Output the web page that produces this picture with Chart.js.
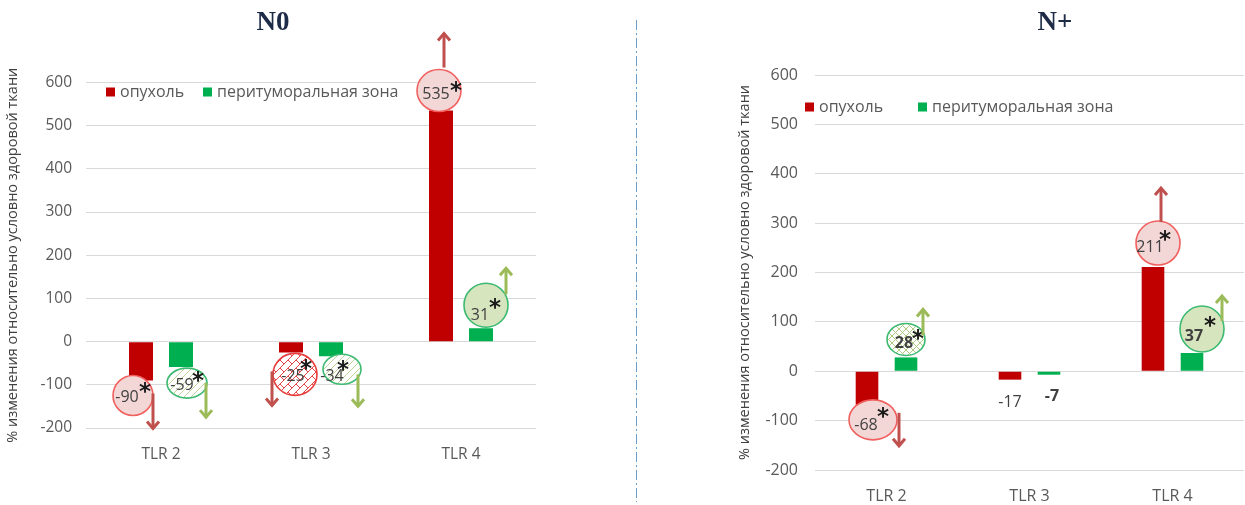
<!DOCTYPE html>
<html lang="ru">
<head>
<meta charset="utf-8">
<script src="https://cdn.jsdelivr.net/npm/chart.js@4.4.1/dist/chart.umd.min.js"></script>
<style>
  html, body { margin: 0; padding: 0; background: #fff; }
  #page { position: relative; width: 1245px; height: 505px; overflow: hidden; }
  canvas { position: absolute; top: 0; }
  #chartN0 { left: 0; }
  #chartNp { left: 640px; }
  .title {
    position: absolute; top: 6px; line-height: 33px;
    font: bold 27px "Liberation Serif", "Times New Roman", serif;
    color: #1e2b47; transform: translateX(-50%); white-space: nowrap;
  }
  #divider { position: absolute; left: 0; top: 0; }
</style>
</head>
<body>
<div id="page">
  <canvas id="chartN0" width="540" height="505"></canvas>
  <canvas id="chartNp" width="605" height="505"></canvas>
  <div class="title" style="left:273px">N0</div>
  <div class="title" style="left:1055px">N+</div>
  <svg id="divider" width="1245" height="505">
    <line x1="636.5" y1="20" x2="636.5" y2="502" stroke="#6c9dc6" stroke-width="1" stroke-dasharray="10 3 2 3"/>
  </svg>
</div>
<script>
const categories = ['TLR 2', 'TLR 3', 'TLR 4'];
const seriesNames = ['опухоль', 'перитуморальная зона'];
const yTicks = [600, 500, 400, 300, 200, 100, 0, -100, -200];
const yTitle = '% изменения относительно условно здоровой ткани';

// N0
const tumorN0 = [-90, -25, 535];
const periN0 = [-59, -34, 31];
// N+
const tumorNp = [-68, -17, 211];
const periNp = [28, -7, 37];

const RED = '#c00000';
const GREEN = '#00b050';
const ARROW_RED = '#c0504d';
const ARROW_GREEN = '#9bbb59';

// fill patterns for the callout bubbles
function makePattern(size, draw) {
  const c = document.createElement('canvas');
  c.width = c.height = size;
  const g = c.getContext('2d');
  g.fillStyle = '#fff';
  g.fillRect(0, 0, size, size);
  draw(g, size);
  return c.getContext('2d').createPattern(c, 'repeat');
}

const diagGreen = makePattern(7, (g, s) => {
  g.strokeStyle = '#bcd496';
  g.lineWidth = 1;
  for (let k = -s; k <= s; k += s) {
    g.beginPath(); g.moveTo(k, s); g.lineTo(k + s, 0); g.stroke();
  }
});

const trellisGreen = makePattern(7, (g, s) => {
  g.strokeStyle = '#b0cc84';
  g.lineWidth = 1;
  for (let k = -s; k <= s; k += s) {
    g.beginPath(); g.moveTo(k, s); g.lineTo(k + s, 0); g.stroke();
    g.beginPath(); g.moveTo(k, 0); g.lineTo(k + s, s); g.stroke();
  }
});

// diagonal brick: "/" rows with short "\" joints, staggered row to row
const brickRed = makePattern(16, (g, s) => {
  g.strokeStyle = '#e24646';
  g.lineWidth = 1;
  const row = 8;
  for (let c = -s; c <= 3 * s; c += row) {
    g.beginPath(); g.moveTo(c, 0); g.lineTo(c - 2 * s, 2 * s); g.stroke();
  }
  for (let r = -3; r <= 6; r++) {
    for (let d = -3 * s; d <= 3 * s; d += s) {
      const sum = row * r, diff = d + (r % 2 ? s / 2 : 0);
      const x = (sum + diff) / 2, y = (sum - diff) / 2;
      g.beginPath(); g.moveTo(x, y); g.lineTo(x + row / 2, y + row / 2); g.stroke();
    }
  }
});

const bubbleFills = {
  pink: { fill: '#f3d6d6', stroke: '#f0605e' },
  green: { fill: '#d7e5bf', stroke: '#3dba72' },
  diag: { fill: diagGreen, stroke: '#3dba72' },
  trellis: { fill: trellisGreen, stroke: '#3dba72' },
  brick: { fill: brickRed, stroke: '#e83c3c' }
};

// bubble placement relative to the end of each bar (pixels)
const calloutsN0 = [
  { ds: 0, i: 0, dx: -8, dy: 15, rx: 20, ry: 20, kind: 'pink', tx: -6, ty: 2, sx: 12, sy: -8, arrow: [12, 13, 49] },
  { ds: 1, i: 0, dx: 6, dy: 16, rx: 20, ry: 15, kind: 'diag', tx: -5, ty: 2, sx: 11, sy: -7, arrow: [25, 16, 51] },
  { ds: 0, i: 1, dx: 4, dy: 22, rx: 22, ry: 21, kind: 'brick', tx: -2, ty: 2, sx: 11, sy: -10, arrow: [-19, 19, 54] },
  { ds: 1, i: 1, dx: 11, dy: 13, rx: 19, ry: 15, kind: 'diag', tx: -10, ty: 7, sx: 1, sy: -4, arrow: [27, 18, 51] },
  { ds: 0, i: 2, dx: -2, dy: -20, rx: 22, ry: 21, kind: 'pink', tx: -3, ty: 4, sx: 17, sy: -4, arrow: [3, -43, -78] },
  { ds: 1, i: 2, dx: 5, dy: -23, rx: 22, ry: 22, kind: 'green', tx: -6, ty: 10, sx: 9, sy: -2, arrow: [25, -34, -61] }
];

const calloutsNp = [
  { ds: 0, i: 0, dx: 6, dy: 15, rx: 24, ry: 20, kind: 'pink', tx: -7, ty: 6, sx: 10, sy: -7, arrow: [32, 8, 42] },
  { ds: 1, i: 0, dx: 0, dy: -18, rx: 19, ry: 16, kind: 'trellis', bold: true, tx: -2, ty: 4, sx: 12, sy: -5, arrow: [17, -22, -49] },
  { ds: 0, i: 1, plain: true, tx: 0, ty: 23 },
  { ds: 1, i: 1, plain: true, bold: true, tx: 3, ty: 22 },
  { ds: 0, i: 2, dx: 5, dy: -24, rx: 22, ry: 22, kind: 'pink', tx: -8, ty: 4, sx: 7, sy: -8, arrow: [8, -45, -80] },
  { ds: 1, i: 2, dx: 10, dy: -24, rx: 22, ry: 23, kind: 'green', bold: true, tx: -8, ty: 7, sx: 8, sy: -7, arrow: [30, -32, -58] }
];

function drawArrow(ctx, x, y1, y2, color) {
  const dir = y2 > y1 ? 1 : -1;
  ctx.save();
  ctx.strokeStyle = color;
  ctx.lineWidth = 3;
  ctx.beginPath();
  ctx.moveTo(x, y1);
  ctx.lineTo(x, y2 - dir);
  ctx.stroke();
  ctx.beginPath();
  ctx.moveTo(x - 6, y2 - dir * 8);
  ctx.lineTo(x, y2 - dir);
  ctx.lineTo(x + 6, y2 - dir * 8);
  ctx.stroke();
  ctx.restore();
}

function drawStar(ctx, x, y) {
  ctx.save();
  ctx.font = 'bold 23px "DejaVu Sans"';
  ctx.fillStyle = '#1a1a1a';
  ctx.textAlign = 'center';
  ctx.textBaseline = 'alphabetic';
  const m = ctx.measureText('*');
  ctx.fillText('*', x, y + (m.actualBoundingBoxAscent - m.actualBoundingBoxDescent) / 2);
  ctx.restore();
}

const calloutPlugin = {
  id: 'callouts',
  afterDatasetsDraw(chart, args, opts) {
    const ctx = chart.ctx;
    const size = opts.fontSize || 15;
    (opts.items || []).forEach(c => {
      const bar = chart.getDatasetMeta(c.ds).data[c.i];
      const value = chart.data.datasets[c.ds].data[c.i];
      const font = (c.bold ? 'bold ' : '') + size + 'px "Open Sans"';
      ctx.save();
      if (c.plain) {
        ctx.font = font;
        ctx.fillStyle = '#404040';
        ctx.textAlign = 'center';
        ctx.textBaseline = 'middle';
        ctx.fillText(String(value), bar.x + c.tx, bar.y + c.ty);
        ctx.restore();
        return;
      }
      const cx = bar.x + c.dx, cy = bar.y + c.dy;
      const style = bubbleFills[c.kind];
      ctx.beginPath();
      ctx.ellipse(cx, cy, c.rx, c.ry, 0, 0, Math.PI * 2);
      ctx.fillStyle = style.fill;
      ctx.fill();
      ctx.lineWidth = 1.6;
      ctx.strokeStyle = style.stroke;
      ctx.stroke();
      ctx.font = font;
      ctx.fillStyle = '#404040';
      ctx.textAlign = 'center';
      ctx.textBaseline = 'middle';
      ctx.fillText(String(value), cx + c.tx, cy + c.ty);
      drawStar(ctx, cx + c.sx, cy + c.sy);
      ctx.restore();
      const a = c.arrow;
      drawArrow(ctx, bar.x + a[0], bar.y + a[1], bar.y + a[2], c.ds === 0 ? ARROW_RED : ARROW_GREEN);
    });
  }
};

// legend drawn inside the plot, over the grid
const innerLegend = {
  id: 'innerLegend',
  afterDraw(chart, args, opts) {
    const ctx = chart.ctx;
    ctx.save();
    ctx.font = opts.fontSize + 'px "Open Sans"';
    ctx.textBaseline = 'middle';
    ctx.textAlign = 'left';
    chart.data.datasets.forEach((ds, k) => {
      const x = opts.x + k * opts.step;
      ctx.fillStyle = ds.backgroundColor;
      ctx.fillRect(x, opts.y - 4.5, 9, 9);
      ctx.fillStyle = '#595959';
      ctx.fillText(ds.label, x + 14, opts.y);
    });
    ctx.restore();
  }
};

function buildPanel(id, tumor, peri, cfg) {
  return new Chart(document.getElementById(id), {
    type: 'bar',
    data: {
      labels: categories,
      datasets: [
        { label: seriesNames[0], data: tumor, backgroundColor: RED },
        { label: seriesNames[1], data: peri, backgroundColor: GREEN }
      ]
    },
    plugins: [calloutPlugin, innerLegend],
    options: {
      responsive: false,
      animation: false,
      layout: { padding: { top: cfg.top, right: cfg.right, left: 0, bottom: 0 } },
      datasets: { bar: { categoryPercentage: cfg.catPct, barPercentage: cfg.barPct } },
      plugins: {
        legend: { display: false },
        tooltip: { enabled: false },
        innerLegend: cfg.legend,
        callouts: { items: cfg.callouts, fontSize: cfg.valueFont }
      },
      scales: {
        x: {
          grid: { display: false, drawTicks: false },
          border: { display: false },
          ticks: { color: '#595959', font: { family: 'Open Sans', size: cfg.tickFont }, padding: cfg.xPad },
          afterFit: s => { s.height = cfg.xHeight; }
        },
        y: {
          min: -200,
          max: 600,
          afterBuildTicks: s => { s.ticks = yTicks.map(v => ({ value: v })); },
          grid: { color: '#d9d9d9', drawTicks: false },
          border: { display: false },
          ticks: { color: '#595959', font: { family: 'Open Sans', size: cfg.tickFont }, padding: cfg.yPad },
          title: {
            display: true,
            text: yTitle,
            color: '#404040',
            font: { family: 'Open Sans', size: cfg.titleFont },
            padding: { top: cfg.titlePad, bottom: 0 }
          },
          afterFit: s => { s.width = cfg.yWidth; }
        }
      }
    }
  });
}

buildPanel('chartN0', tumorN0, periN0, {
  top: 82.5, right: 4, yWidth: 86, xHeight: 77, xPad: 17,
  yPad: 14, tickFont: 15.5, titleFont: 14.5, titlePad: 4.3, valueFont: 16,
  catPct: 80 / 150, barPct: 0.6,
  legend: { x: 106, y: 92, step: 97, fontSize: 16 },
  callouts: calloutsN0
});

buildPanel('chartNp', tumorNp, periNp, {
  top: 75, right: 1, yWidth: 175, xHeight: 35, xPad: 17,
  yPad: 17, tickFont: 16, titleFont: 14.5, titlePad: 96.3, valueFont: 16,
  catPct: 78 / 143, barPct: 0.58,
  legend: { x: 165, y: 107, step: 113, fontSize: 16 },
  callouts: calloutsNp
});
</script>
</body>
</html>
